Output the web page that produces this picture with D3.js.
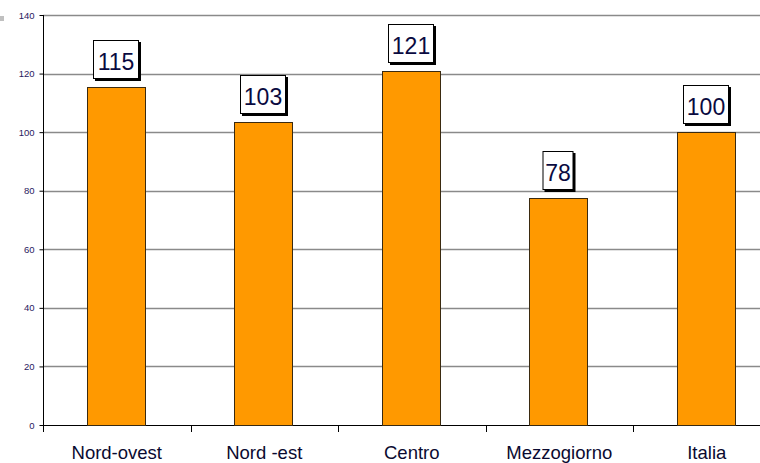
<!DOCTYPE html>
<html><head><meta charset="utf-8">
<script src="https://cdn.jsdelivr.net/npm/d3@7"></script>
<style>html,body{margin:0;padding:0;background:#fff;overflow:hidden}svg{display:block}</style>
</head><body>
<svg id="c" width="760" height="463"></svg>
<script>
const categories = ["Nord-ovest", "Nord -est", "Centro", "Mezzogiorno", "Italia"];
const values = [115.3, 103.4, 121, 77.5, 100];
const labels = ["115", "103", "121", "78", "100"];
const yTicks = [0, 20, 40, 60, 80, 100, 120, 140];

const svg = d3.select("#c");
const x0 = 43, y0 = 425, yTop = 15, step = 147.5;
const x = d3.scaleBand().domain(categories).range([x0, x0 + step * categories.length]).padding(0);
const y = d3.scaleLinear().domain([0, 140]).range([y0, yTop]);

// legend remnant
svg.append("rect").attr("x", 0).attr("y", 16).attr("width", 4).attr("height", 5).attr("fill", "#c0c0c0");

// gridlines
svg.append("g").selectAll("line").data(yTicks.filter(d => d > 0)).join("line")
  .attr("x1", x0).attr("x2", 760)
  .attr("y1", d => Math.round(y(d)) + 0.5).attr("y2", d => Math.round(y(d)) + 0.5)
  .attr("stroke", "#8a8a8a").attr("stroke-width", 1.3);

// y axis
const ya = svg.append("g").attr("transform", `translate(${x0 + 0.5},0)`)
  .call(d3.axisLeft(y).tickValues(yTicks).tickSize(4).tickPadding(5));
ya.select(".domain").attr("stroke", "#000").attr("d", `M0,${yTop}V${y0 + 7}`);
ya.selectAll(".tick line").attr("stroke", "#000");
ya.selectAll("text").attr("font-family", "Liberation Sans, Arial, sans-serif").attr("font-size", 9.5).attr("fill", "#2a2060");

// x axis
const xa = svg.append("g").attr("transform", `translate(0,${y0 + 0.5})`)
  .call(d3.axisBottom(x).tickSize(0));
xa.select(".domain").attr("stroke", "#000").attr("d", `M${x0},0H760`);
xa.selectAll("text").attr("font-family", "Liberation Sans, Arial, sans-serif").attr("font-size", 18.5).attr("fill", "#0a0a30")
  .attr("y", 33.5).attr("dy", 0);
// category boundary ticks
svg.append("g").selectAll("line").data(categories).join("line")
  .attr("x1", d => Math.round(x(d)) + 0.5).attr("x2", d => Math.round(x(d)) + 0.5)
  .attr("y1", y0).attr("y2", y0 + 7).attr("stroke", "#000");

// bars
const bw = 58;
svg.append("g").selectAll("rect").data(values).join("rect")
  .attr("x", (d, i) => Math.round(x(categories[i]) + x.bandwidth() / 2 - bw / 2 - 1) + 0.5)
  .attr("y", d => Math.round(y(d)) + 0.5)
  .attr("width", bw)
  .attr("height", d => y0 - Math.round(y(d)))
  .attr("fill", "#ff9900").attr("stroke", "#3a2a10").attr("stroke-width", 1);

// label boxes
const g = svg.append("g").selectAll("g").data(values).join("g")
  .attr("transform", (d, i) => `translate(${Math.round(x(categories[i]) + x.bandwidth() / 2 - 1)},${Math.round(y(d)) - 8})`);
const bwOf = i => labels[i].length === 3 ? 46 : 31;
g.append("rect").attr("x", (d, i) => -bwOf(i) / 2 + 2).attr("y", -39 + 2)
  .attr("width", (d, i) => bwOf(i)).attr("height", 39).attr("fill", "#000");
g.append("rect").attr("x", (d, i) => -bwOf(i) / 2 + 0.5).attr("y", -38.5)
  .attr("width", (d, i) => bwOf(i) - 1).attr("height", 38).attr("fill", "#fff").attr("stroke", "#000");
g.append("text").text((d, i) => labels[i]).attr("text-anchor", "middle").attr("y", -9)
  .attr("font-family", "Liberation Sans, Arial, sans-serif").attr("font-size", 23).attr("fill", "#0a0a40");
</script>
</body></html>
